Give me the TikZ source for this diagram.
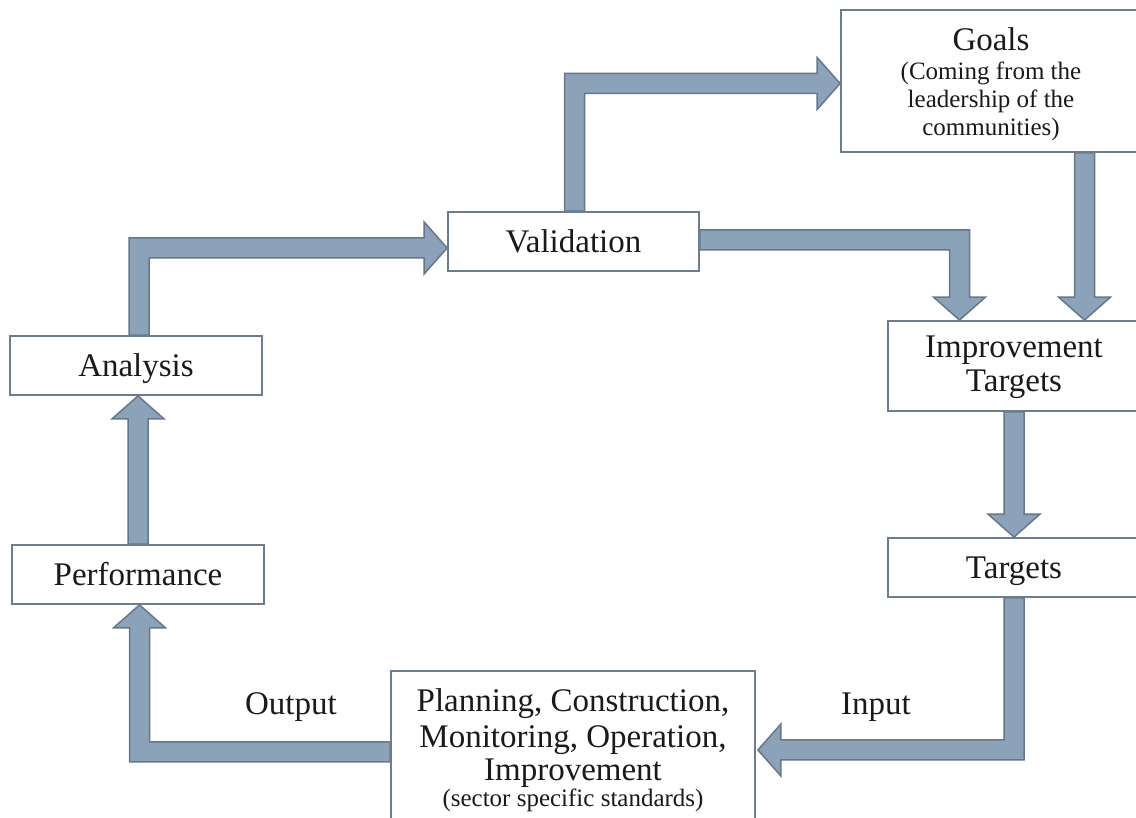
\documentclass[tikz,border=0pt]{standalone}
\usepackage{fontspec}
\setmainfont{Liberation Serif}
\usetikzlibrary{calc}
\pgfdeclarelayer{background}
\pgfsetlayers{background,main}
\definecolor{arrfill}{HTML}{8CA2B9}
\definecolor{arrline}{HTML}{66778C}
\definecolor{boxline}{HTML}{6C7D91}
\definecolor{txt}{HTML}{1A1A1A}
\begin{document}
\begin{tikzpicture}[x=1pt,y=1pt,
  box/.style={draw=boxline, line width=1.8pt, fill=white, text=txt, inner sep=3pt,
    minimum height=59pt, minimum width=252pt, align=center,
    font=\fontsize{33}{36}\selectfont},
  oneline/.style={text height=27pt, text depth=4pt},
  blk/.style={fill=arrfill, draw=arrline, line width=1.5pt, line join=miter},
  lbl/.style={text=txt, font=\fontsize{33}{36}\selectfont, anchor=base}]
\useasboundingbox (0,0) rectangle (1136,818);

% boxes
\node[box, minimum width=300pt, minimum height=142pt, font=\fontsize{25}{28}\selectfont] (goals) at (991,737)
  {{\fontsize{33}{33}\selectfont\rule{0pt}{30pt}Goals}\\[1pt](Coming from the\\leadership of the\\communities)};
\node[box, oneline, minimum width=251pt] (validation) at (573.5,576.5) {Validation};
\node[box, minimum height=90pt, font=\fontsize{33}{34}\selectfont] (improve) at (1014,452) {\rule{0pt}{25pt}Improvement\\Targets};
\node[box, oneline] (analysis) at (136,452.5) {Analysis};
\node[box, oneline] (performance) at (138,243.5) {Performance};
\node[box, oneline] (targets) at (1014,250.5) {Targets};
\node[box, anchor=north, minimum width=364pt, inner ysep=17.5pt] (planning) at (573,148)
  {Planning, Construction,\\Monitoring, Operation,\\[-3pt]Improvement\\[-10pt]{\fontsize{25}{25}\selectfont (sector specific standards)}\\[40pt]\mbox{}};

\node[lbl] (output) at (291,103) {Output};
\node[lbl] (input) at (876,103) {Input};

% block arrows
\begin{pgfonlayer}{background}
% Analysis -> Validation
\draw[blk] ($(analysis.north)+(-7,0)$) |- ($(validation.west)+(-23,3.5)$) -- ++(0,16)
  -- ($(validation.west)+(0,-6.5)$) -- ++(-23,-26) -- ++(0,16) -| ($(analysis.north)+(13,0)$) -- cycle;
% Validation -> Goals
\draw[blk] ($(validation.north)+(-9,0)$) |- ($(goals.west)+(-23,7.5)$) -- ++(0,16)
  -- ($(goals.west)+(0,-2.5)$) -- ++(-23,-26) -- ++(0,16) -| ($(validation.north)+(11,0)$) -- cycle;
% Validation -> Improvement Targets
\draw[blk] ($(validation.east)+(0,11.5)$) -| ($(improve.north)+(-44.5,23)$) -- ++(16,0)
  -- ($(improve.north)+(-54.5,0)$) -- ++(-26,23) -- ++(16,0) |- ($(validation.east)+(0,-8.5)$) -- cycle;
% Goals -> Improvement Targets
\draw[blk] ($(goals.south)+(83.5,0)$) -- ($(improve.north)+(60.5,23)$) -- ++(-16,0)
  -- ($(improve.north)+(70.5,0)$) -- ++(26,23) -- ++(-16,0) -- ($(goals.south)+(103.5,0)$) -- cycle;
% Improvement Targets -> Targets
\draw[blk] ($(improve.south)+(-10,0)$) -- ($(targets.north)+(-10,23)$) -- ++(-16,0)
  -- (targets.north) -- ++(26,23) -- ++(-16,0) -- ($(improve.south)+(10,0)$) -- cycle;
% Targets -> Planning
\draw[blk] ($(targets.south)+(-10,0)$) |- ($(planning.north east)+(25,-70)$) -- ++(0,16)
  -- ($(planning.north east)+(2,-80)$) -- ++(23,-26) -- ++(0,16) -| ($(targets.south)+(10,0)$) -- cycle;
% Planning -> Performance
\draw[blk] ($(planning.north west)+(0,-72)$) -| ($(performance.south)+(11.5,-23)$) -- ++(16,0)
  -- ($(performance.south)+(1.5,0)$) -- ++(-26,-23) -- ++(16,0) |- ($(planning.north west)+(0,-92)$) -- cycle;
% Performance -> Analysis
\draw[blk] ($(performance.north)+(-10,0)$) -- ($(analysis.south)+(-8,-23)$) -- ++(-16,0)
  -- ($(analysis.south)+(2,0)$) -- ++(26,-23) -- ++(-16,0) -- ($(performance.north)+(10,0)$) -- cycle;
\end{pgfonlayer}
\end{tikzpicture}
\end{document}
